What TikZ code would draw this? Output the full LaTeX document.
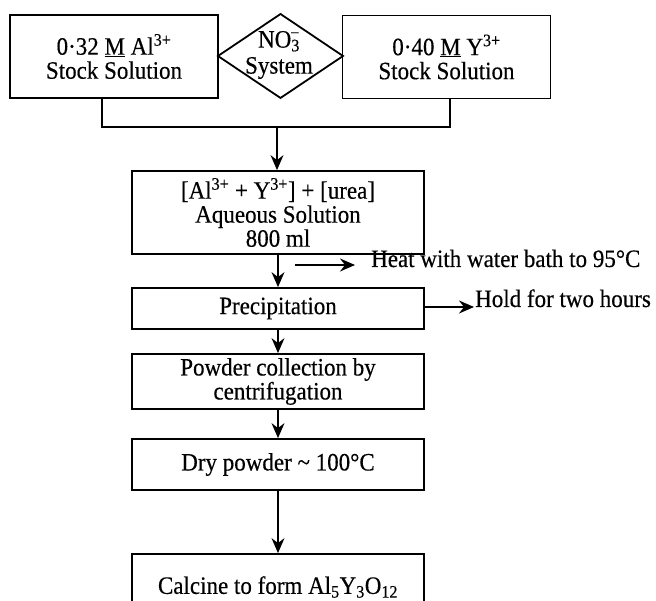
\documentclass[tikz,border=0pt]{standalone}
\usepackage{fontspec}
\setmainfont{Liberation Serif}[FakeStretch=0.92,FakeBold=0.4]
\usetikzlibrary{arrows.meta}
\begin{document}
\begin{tikzpicture}[x=1pt,y=-1pt,
  txt/.style={font=\fontsize{25}{24}\selectfont, align=center, inner sep=1pt},
  box/.style={txt, draw, line width=1.8pt, minimum width=292pt},
  stockbox/.style={txt, draw, line width=1.8pt, minimum width=208pt, minimum height=83pt},
  conn/.style={line width=1.3pt},
  arr/.style={conn, -{Stealth[length=15pt,width=13pt,inset=5pt]}}]
\useasboundingbox (0,0) rectangle (656,601);
\clip (0,0) rectangle (656,601);
% top row
\node[stockbox] (al) at (114,56.5) {0·32 \underline{M} Al\textsuperscript{3+}\\Stock Solution};
\node[stockbox] (yt) at (446.5,57) {0·40 \underline{M} Y\textsuperscript{3+}\\Stock Solution};
\node[txt] (sys) at (279,55) {NO\textsubscript{3}\llap{\textsuperscript{−}}\\[2pt]System};
\draw[line width=1.8pt, line join=miter] (218,56) -- (280.5,14) -- (343,56) -- (280.5,98) -- cycle;
% mixing
\node[box, minimum height=83pt] (mix) at (278,212.5) {[Al\textsuperscript{3+} + Y\textsuperscript{3+}] + [urea]\\Aqueous Solution\\800 ml};
\coordinate (j) at (277,127);
\draw[conn] ([xshift=-12pt]al.south) |- (j) -| ([xshift=3.5pt]yt.south);
\draw[arr] (j) -- (mix.north -| j);
% precipitation
\node[box, minimum height=41pt] (prec) at (278,308.5) {Precipitation};
\draw[arr] (mix.south) -- (prec.north);
\coordinate (hs) at (295,265);
\node[txt, anchor=base west] (heat) at (370,267) {Heat with water bath to 95°C};
\draw[arr] (hs) -- ([xshift=-15pt]hs -| heat.west);
\node[txt, anchor=base west] (hold) at (474,307) {Hold for two hours};
\draw[arr] ([yshift=1.5pt]prec.east) -- ([yshift=1.5pt]prec.east -| hold.west);
% powder
\node[box, minimum height=55pt] (powder) at (278,381.5) {Powder collection by\\centrifugation};
\draw[arr] (prec.south) -- (powder.north);
\node[box, minimum height=51pt] (dry) at (278,464.5) {Dry powder \textasciitilde\ 100°C};
\draw[arr] (powder.south) -- (dry.north);
\node[box, minimum height=66pt] (calc) at (278,587) {Calcine to form Al\textsubscript{5}Y\textsubscript{3}O\textsubscript{12}};
\draw[arr] (dry.south) -- (calc.north);
\end{tikzpicture}
\end{document}
